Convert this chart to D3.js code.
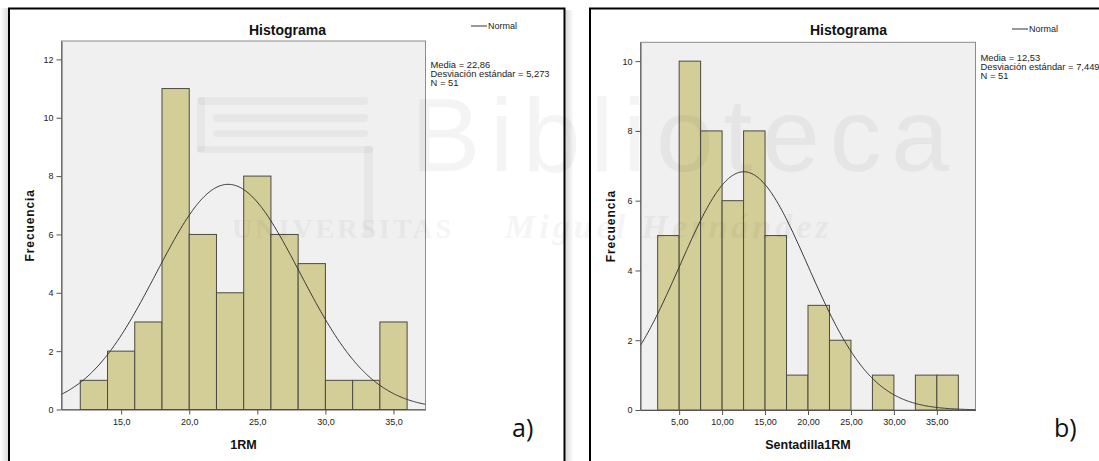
<!DOCTYPE html>
<html><head><meta charset="utf-8">
<script src="https://cdn.jsdelivr.net/npm/d3@7"></script>
<style>html,body{margin:0;padding:0;background:#fff;} svg{display:block;font-family:"Liberation Sans",Arial,sans-serif;}</style>
</head><body>
<svg id="c" width="1099" height="461"></svg>
<script>
// ---------- data ----------
const binStartA = [12,14,16,18,20,22,24,26,28,30,32,34];
const countA    = [1,2,3,11,6,4,8,6,5,1,1,3];
const binWidthA = 2;
const xTicksA   = [15,20,25,30,35];
const yTicksA   = [0,2,4,6,8,10,12];
const meanA = 22.86, sdA = 5.273, nA = 51;
const xTitleA = "1RM";

const binStartB = [2.5,5,7.5,10,12.5,15,17.5,20,22.5,25,27.5,30,32.5,35];
const countB    = [5,10,8,6,8,5,1,3,2,0,1,0,1,1];
const binWidthB = 2.5;
const xTicksB   = [5,10,15,20,25,30,35];
const yTicksB   = [0,2,4,6,8,10];
const meanB = 12.53, sdB = 7.449, nB = 51;
const xTitleB = "Sentadilla1RM";

const svg = d3.select("#c");
const defs = svg.append("defs");
const grad = defs.append("linearGradient").attr("id","shR").attr("x1","0").attr("x2","1");
grad.append("stop").attr("offset","0").attr("stop-color","#d8d8d8");
grad.append("stop").attr("offset","1").attr("stop-color","#ffffff");
const gradL = defs.append("linearGradient").attr("id","shL").attr("x1","0").attr("x2","1");
gradL.append("stop").attr("offset","0").attr("stop-color","#ffffff");
gradL.append("stop").attr("offset","1").attr("stop-color","#dcdcdc");

// frames + shadows
svg.append("rect").attr("x",0).attr("y",8).attr("width",8).attr("height",461).attr("fill","url(#shL)");
svg.append("rect").attr("x",565.5).attr("y",10).attr("width",8).attr("height",461).attr("fill","url(#shR)");
svg.append("rect").attr("x",9).attr("y",8.5).attr("width",555.5).attr("height",480)
  .attr("fill","#fff").attr("stroke","#000").attr("stroke-width",2);
svg.append("rect").attr("x",590).attr("y",8.5).attr("width",530).attr("height",480)
  .attr("fill","#fff").attr("stroke","#000").attr("stroke-width",2);

const comma = f => v => f(v).replace(".", ",");

function panel(p){
  const g = svg.append("g");
  const x = d3.scaleLinear().domain(p.xDomain).range([p.left, p.right]);
  const y = d3.scaleLinear().domain(p.yDomain).range([p.bottom, p.top]);
  g.append("rect").attr("x",p.left).attr("y",p.top)
    .attr("width",p.right-p.left).attr("height",p.bottom-p.top)
    .attr("fill","#f0f0f0").attr("stroke","#8c8c8c").attr("stroke-width",1);
  const bars = p.starts.map((s,i)=>({s:s, c:p.counts[i]})).filter(d=>d.c>0);
  g.selectAll("rect.bar").data(bars).join("rect").attr("class","bar")
    .attr("x", d=>x(d.s)).attr("width", d=>x(d.s+p.bw)-x(d.s))
    .attr("y", d=>y(d.c)).attr("height", d=>y(0)-y(d.c))
    .attr("fill","#d3ce97").attr("stroke","#4a4a42").attr("stroke-width",1);
  const cid = "clip"+p.id;
  defs.append("clipPath").attr("id",cid).append("rect")
    .attr("x",p.left).attr("y",p.top).attr("width",p.right-p.left).attr("height",p.bottom-p.top);
  const pdf = v => Math.exp(-0.5*Math.pow((v-p.mean)/p.sd,2))/(p.sd*Math.sqrt(2*Math.PI));
  const step = (p.xDomain[1]-p.xDomain[0])/400;
  const xs = d3.range(p.xDomain[0], p.xDomain[1]+step/2, step);
  g.append("path").attr("clip-path",`url(#${cid})`)
    .attr("d", d3.line().x(v=>x(v)).y(v=>y(p.n*p.bw*pdf(v)))(xs))
    .attr("fill","none").attr("stroke","#333").attr("stroke-width",1);
  const ax = g.append("g").attr("transform",`translate(0,${p.bottom})`)
    .call(d3.axisBottom(x).tickValues(p.xTicks).tickSize(5).tickSizeOuter(0).tickPadding(4).tickFormat(p.xFmt));
  const ay = g.append("g").attr("transform",`translate(${p.left},0)`)
    .call(d3.axisLeft(y).tickValues(p.yTicks).tickSize(5).tickSizeOuter(0).tickPadding(3).tickFormat(d3.format("d")));
  [ax,ay].forEach(a=>{
    a.select(".domain").attr("stroke","#555");
    a.selectAll(".tick line").attr("stroke","#555");
    a.selectAll(".tick text").attr("font-size","9px").attr("fill","#222")
      .attr("font-family","'Liberation Sans',Arial,sans-serif");
  });
  // titles
  g.append("text").attr("x",p.titleX).attr("y",34.5).attr("text-anchor","middle")
    .attr("font-size","14px").attr("font-weight","bold").attr("fill","#111").text("Histograma");
  g.append("text").attr("x",(p.left+p.right)/2).attr("y",449).attr("text-anchor","middle")
    .attr("font-size","12.5px").attr("font-weight","bold").attr("fill","#111").text(p.xTitle);
  g.append("text").attr("transform",`translate(${p.yTitleX},${(p.top+p.bottom)/2}) rotate(-90)`)
    .attr("text-anchor","middle").attr("font-size","12px").attr("font-weight","bold")
    .attr("letter-spacing","0.9px").attr("fill","#111").text("Frecuencia");
  // legend
  g.append("line").attr("x1",p.legX).attr("x2",p.legX+16).attr("y1",p.legY).attr("y2",p.legY)
    .attr("stroke","#333").attr("stroke-width",1);
  g.append("text").attr("x",p.legX+17).attr("y",p.legY+3).attr("font-size","9px").attr("fill","#222").text("Normal");
  // stats
  const lines = ["Media = "+comma(d3.format(".2f"))(p.mean),
                 "Desviación estándar = "+comma(d3.format(".3f"))(p.sd),
                 "N = "+p.n];
  g.selectAll("text.st").data(lines).join("text").attr("class","st")
    .attr("x",p.right+5).attr("y",(d,i)=>p.statY+i*9)
    .attr("font-size","9.4px").attr("fill","#222").text(d=>d);
  // tag
  g.append("text").attr("x",p.tagX).attr("y",437).attr("font-family","'Open Sans',sans-serif")
    .attr("font-size","25px").attr("fill","#111").text(p.tag);
}

panel({id:"a", left:61.5, right:425.5, top:41, bottom:409.5,
  xDomain:[10.62,37.35], yDomain:[0,12.63],
  starts:binStartA, counts:countA, bw:binWidthA, mean:meanA, sd:sdA, n:nA,
  xTicks:xTicksA, yTicks:yTicksA, xFmt:comma(d3.format(".1f")), xTitle:xTitleA,
  titleX:287.5, yTitleX:33.5, legX:471, legY:26, statY:68, tagX:512, tag:"a)"});

panel({id:"b", left:640.5, right:975.5, top:42.3, bottom:410,
  xDomain:[0.5,39.5], yDomain:[0,10.54],
  starts:binStartB, counts:countB, bw:binWidthB, mean:meanB, sd:sdB, n:nB,
  xTicks:xTicksB, yTicks:yTicksB, xFmt:comma(d3.format(".2f")), xTitle:xTitleB,
  titleX:848.5, yTitleX:615, legX:1012, legY:29, statY:61, tagX:1054, tag:"b)"});

// faint watermark (background decoration of the source image)
const wm = svg.append("g").attr("pointer-events","none").attr("fill","#000");
[[198,97,170,8],[213,114,155,8],[213,130,155,7],[197,146,176,7],[364,146,9,91],[197,97,8,55]]
  .forEach(r=>wm.append("rect").attr("x",r[0]).attr("y",r[1]).attr("width",r[2]).attr("height",r[3])
    .attr("rx",3).attr("opacity",0.035));
wm.append("text").attr("x",411).attr("y",171).attr("font-size","104px")
  .attr("textLength",538).attr("lengthAdjust","spacing").attr("opacity",0.04).text("Biblioteca");
wm.append("text").attr("x",232).attr("y",238).attr("font-family","'Liberation Serif',serif")
  .attr("font-size","28px").attr("font-weight","bold").attr("letter-spacing","3px")
  .attr("opacity",0.035).text("UNIVERSITAS");
wm.append("text").attr("x",505).attr("y",238).attr("font-family","'Liberation Serif',serif")
  .attr("font-size","34px").attr("font-weight","bold").attr("font-style","italic")
  .attr("letter-spacing","4px").attr("opacity",0.035).text("Miguel Hernández");
</script>
</body></html>
